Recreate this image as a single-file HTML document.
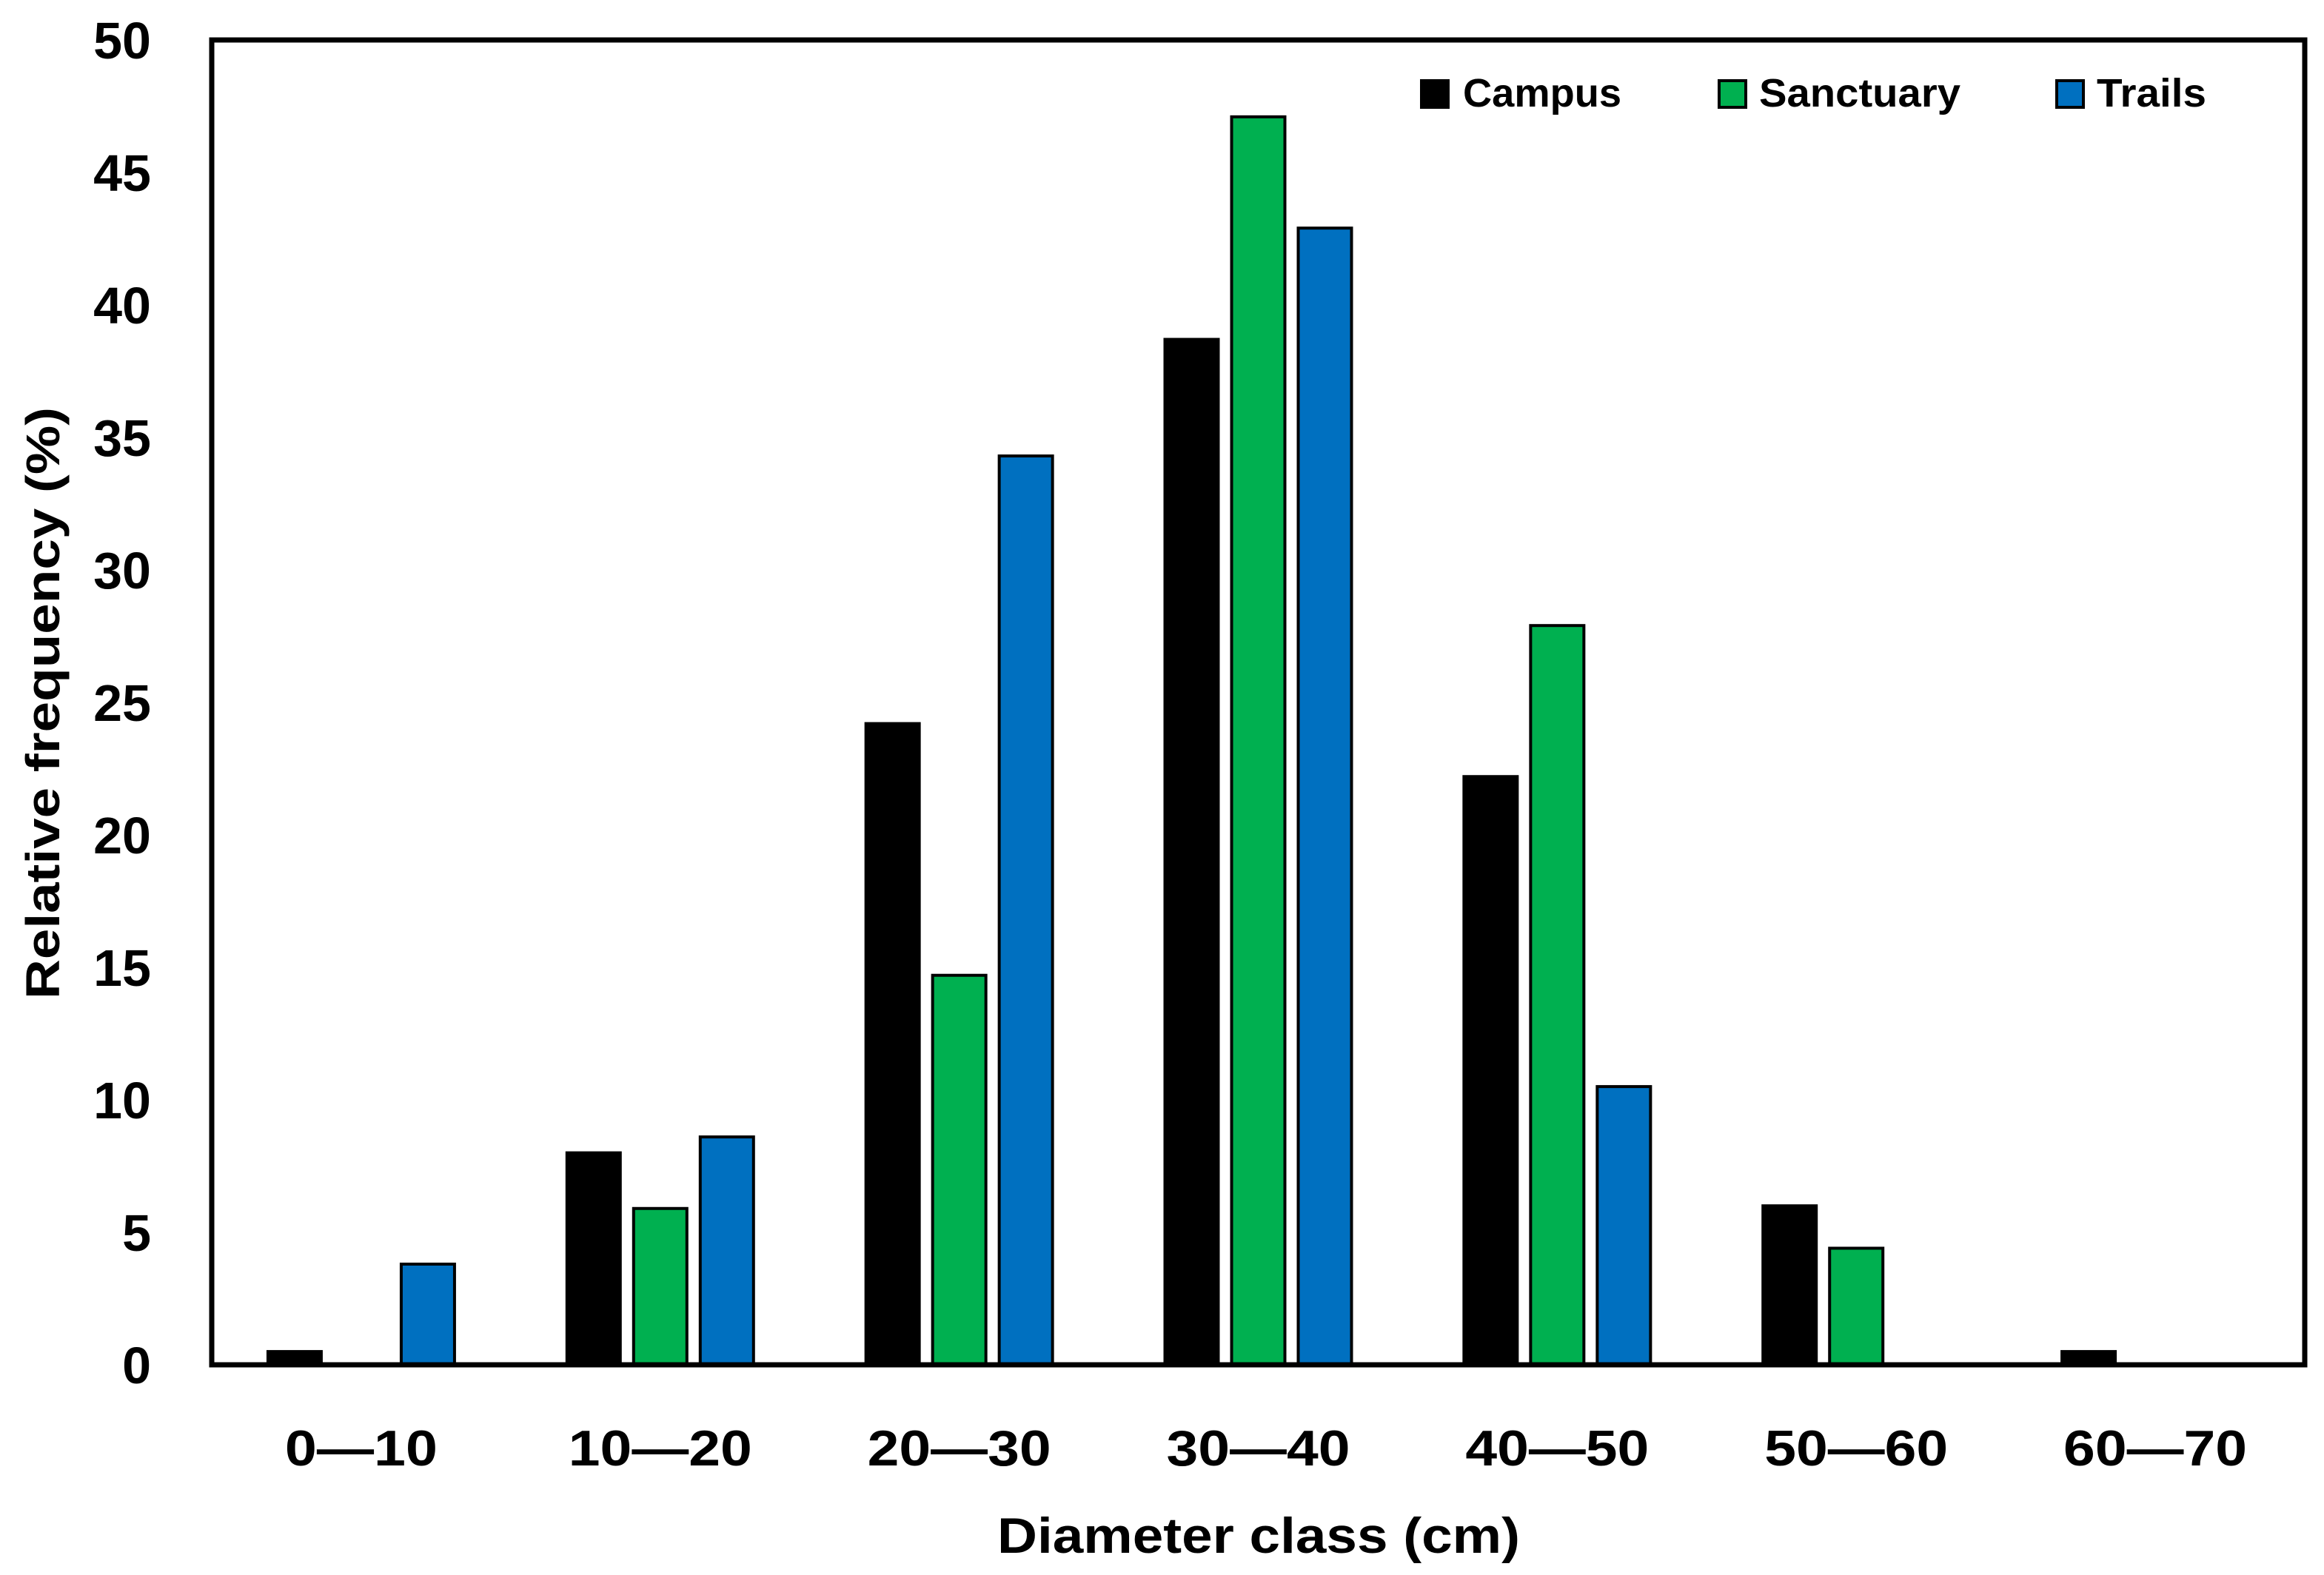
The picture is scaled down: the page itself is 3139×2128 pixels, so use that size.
<!DOCTYPE html>
<html><head><meta charset="utf-8"><style>html,body{margin:0;padding:0;background:#fff}svg{display:block}text{font-family:"Liberation Sans",sans-serif;font-weight:bold;fill:#000}</style></head>
<body>
<svg id="chart" width="3139" height="2128" viewBox="0 0 3139 2128" xmlns="http://www.w3.org/2000/svg">
<g id="bars"></g>
<g id="axes"></g>
<text transform="translate(80,950) rotate(-90)" text-anchor="middle" font-size="64" textLength="800" lengthAdjust="spacingAndGlyphs">Relative frequency  (%)</text>
<text x="1700" y="2098" text-anchor="middle" font-size="68" textLength="706" lengthAdjust="spacingAndGlyphs">Diameter class  (cm)</text>
<g>
<rect x="1920" y="109" width="36" height="36" fill="#000" stroke="#000" stroke-width="4"/>
<text x="1976" y="144" font-size="54" textLength="214" lengthAdjust="spacingAndGlyphs">Campus</text>
<rect x="2322" y="109" width="36" height="36" fill="#00b050" stroke="#000" stroke-width="4"/>
<text x="2376" y="144" font-size="54" textLength="272" lengthAdjust="spacingAndGlyphs">Sanctuary</text>
<rect x="2778" y="109" width="36" height="36" fill="#0070c0" stroke="#000" stroke-width="4"/>
<text x="2832" y="144" font-size="54" textLength="148" lengthAdjust="spacingAndGlyphs">Trails</text>
</g>
</svg>
<script>
const categories = ["0\u201410","10\u201420","20\u201430","30\u201440","40\u201450","50\u201460","60\u201470"];
const campus = [0.5, 8.0, 24.2, 38.7, 22.2, 6.0, 0.5];
const sanctuary = [0, 5.9, 14.7, 47.1, 27.9, 4.4, 0];
const trails = [3.8, 8.6, 34.3, 42.9, 10.5, 0, 0];
const yTicks = [0,5,10,15,20,25,30,35,40,45,50];

const NS="http://www.w3.org/2000/svg";
const L=286,R=3113,T=54,B=1844,yMax=50;
const band=(R-L)/categories.length;
const bw=72,stride=90;
function y(v){return B-(v/yMax)*(B-T);}
function xc(i){return L+band*(i+0.5);}
const bars=document.getElementById('bars');
const axes=document.getElementById('axes');
const series=[{n:'campus',d:campus,c:'#000'},{n:'sanctuary',d:sanctuary,c:'#00b050'},{n:'trails',d:trails,c:'#0070c0'}];
series.forEach((s,si)=>{
  s.d.forEach((v,i)=>{
    if(v<=0) return;
    const r=document.createElementNS(NS,'rect');
    const x=xc(i)+(si-1)*stride-bw/2;
    r.setAttribute('x',x);r.setAttribute('y',y(v));
    r.setAttribute('width',bw);r.setAttribute('height',B-y(v));
    r.setAttribute('fill',s.c);r.setAttribute('stroke','#000');r.setAttribute('stroke-width','4');
    
    
    bars.appendChild(r);
  });
});
const frame=document.createElementNS(NS,'rect');
frame.setAttribute('x',L);frame.setAttribute('y',T);frame.setAttribute('width',R-L);frame.setAttribute('height',B-T);
frame.setAttribute('fill','none');frame.setAttribute('stroke','#000');frame.setAttribute('stroke-width','7');


axes.appendChild(frame);
yTicks.forEach(t=>{
  const tx=document.createElementNS(NS,'text');
  tx.setAttribute('x',204);tx.setAttribute('y',y(t)+25);tx.setAttribute('text-anchor','end');tx.setAttribute('font-size','70');
  tx.textContent=t;
  
  
  axes.appendChild(tx);
});
categories.forEach((c,i)=>{
  const tx=document.createElementNS(NS,'text');
  tx.setAttribute('x',xc(i));tx.setAttribute('y',1980);tx.setAttribute('text-anchor','middle');tx.setAttribute('font-size','68');
  tx.setAttribute('textLength', i===0?206:248);
  tx.setAttribute('lengthAdjust','spacingAndGlyphs');
  tx.textContent=c;
  
  
  axes.appendChild(tx);
});
</script>
</body></html>
